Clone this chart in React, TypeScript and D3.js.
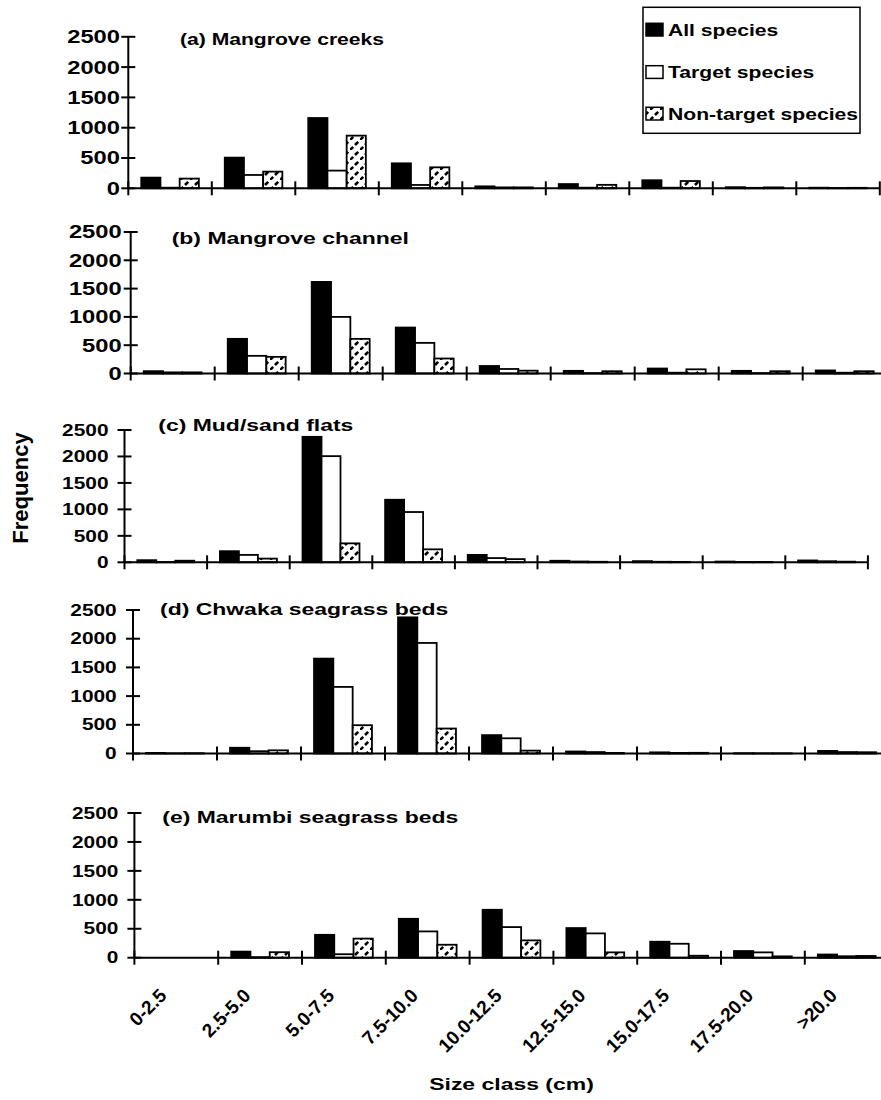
import React from 'react'
import * as d3 from 'd3'

// size classes (x categories) and series
const sizeClasses = ['0-2.5', '2.5-5.0', '5.0-7.5', '7.5-10.0', '10.0-12.5', '12.5-15.0', '15.0-17.5', '17.5-20.0', '>20.0']
const seriesNames = ['All species', 'Target species', 'Non-target species']
const yTicks = [0, 500, 1000, 1500, 2000, 2500]
const panelTitles = [
  '(a) Mangrove creeks',
  '(b) Mangrove channel',
  '(c) Mud/sand flats',
  '(d) Chwaka seagrass beds',
  '(e) Marumbi seagrass beds',
]

const creeksAll = [176, 506, 1160, 412, 32, 70, 133, 18, 10]
const creeksTarget = [10, 220, 292, 55, 15, 10, 10, 8, 5]
const creeksNonTarget = [160, 275, 869, 346, 15, 57, 120, 15, 8]

const channelAll = [41, 612, 1618, 812, 133, 47, 88, 47, 54]
const channelTarget = [20, 312, 1000, 541, 80, 7, 14, 7, 14]
const channelNonTarget = [20, 294, 612, 265, 50, 40, 74, 40, 40]

const flatsAll = [40, 210, 2371, 1182, 140, 29, 22, 14, 35]
const flatsTarget = [5, 140, 2006, 950, 80, 15, 10, 7, 20]
const flatsNonTarget = [30, 70, 358, 245, 60, 10, 8, 7, 12]

const chwakaAll = [10, 100, 1653, 2372, 320, 35, 20, 5, 45]
const chwakaTarget = [3, 40, 1160, 1926, 265, 25, 10, 3, 25]
const chwakaNonTarget = [5, 55, 493, 435, 50, 10, 12, 3, 22]

const marumbiAll = [0, 105, 395, 672, 828, 512, 276, 115, 55]
const marumbiTarget = [0, 10, 60, 454, 529, 420, 241, 92, 25]
const marumbiNonTarget = [0, 95, 330, 224, 299, 92, 34, 23, 30]

const panelData = [
  [creeksAll, creeksTarget, creeksNonTarget],
  [channelAll, channelTarget, channelNonTarget],
  [flatsAll, flatsTarget, flatsNonTarget],
  [chwakaAll, chwakaTarget, chwakaNonTarget],
  [marumbiAll, marumbiTarget, marumbiNonTarget],
]

// where each panel sits on the page
const frames = [
  { x0: 128.3, band: 83.5, top: 36.8, bottom: 188.3, tick: 18, gap: 8.3, tx: 180, ty: 45, tf: 16 },
  { x0: 130.7, band: 84, top: 232, bottom: 373.5, tick: 18, gap: 9, tx: 171.7, ty: 243.5, tf: 17.4 },
  { x0: 124.5, band: 82.6, top: 430, bottom: 562.3, tick: 15.8, gap: 16, tx: 158.3, ty: 430.5, tf: 17.4 },
  { x0: 133, band: 84, top: 610, bottom: 753.5, tick: 15.8, gap: 16.3, tx: 160, ty: 615, tf: 17.4 },
  { x0: 134.4, band: 83.8, top: 813, bottom: 957.7, tick: 15.8, gap: 16, tx: 162.3, ty: 822.5, tf: 17.4 },
]

const FONT = "'Liberation Sans', Arial, Helvetica, sans-serif"
const SX = 1.32 // the original figure is stretched horizontally

const fills = ['#000', '#fff', 'url(#hatch)']

function Txt(props: {
  x: number
  y: number
  size: number
  anchor?: string
  dy?: string
  children: React.ReactNode
}) {
  return (
    <text
      transform={`translate(${props.x},${props.y}) scale(${SX},1)`}
      fontSize={props.size}
      fontFamily={FONT}
      fontWeight="bold"
      textAnchor={props.anchor ?? 'start'}
      dy={props.dy}
      fill="#000"
    >
      {props.children}
    </text>
  )
}

function Panel({ idx }: { idx: number }) {
  const f = frames[idx]
  const values = panelData[idx]
  const x = d3
    .scaleBand<string>()
    .domain(sizeClasses)
    .range([f.x0, f.x0 + f.band * sizeClasses.length])
    .padding(0)
  const xs = d3
    .scaleBand<string>()
    .domain(seriesNames)
    .range([0, x.bandwidth()])
    .paddingInner(0)
    .paddingOuter(0.675)
  const y = d3.scaleLinear().domain([0, 2500]).range([f.bottom, f.top])
  const x1 = f.x0 + f.band * sizeClasses.length
  const edges = sizeClasses.map((c) => x(c) as number).concat([x1])

  return (
    <g>
      {seriesNames.map((s, si) =>
        sizeClasses.map((c, ci) => {
          const v = values[si][ci]
          if (v <= 0) return null
          const bx = (x(c) as number) + (xs(s) as number)
          return (
            <rect
              key={s + c}
              x={bx}
              y={y(v)}
              width={xs.bandwidth()}
              height={y(0) - y(v)}
              fill={fills[si]}
              stroke="#000"
              strokeWidth={1.8}
            />
          )
        }),
      )}
      {/* y axis */}
      <line x1={f.x0} x2={f.x0} y1={y(2500)} y2={y(0)} stroke="#000" strokeWidth={2} />
      {yTicks.map((t) => (
        <g key={t}>
          <line x1={f.x0 - 7} x2={f.x0 + 7} y1={y(t)} y2={y(t)} stroke="#000" strokeWidth={2} />
          <Txt x={f.x0 - f.gap} y={y(t)} size={f.tick} anchor="end" dy="0.36em">
            {t}
          </Txt>
        </g>
      ))}
      {/* x axis */}
      <line x1={f.x0} x2={x1} y1={y(0)} y2={y(0)} stroke="#000" strokeWidth={2} />
      {edges.map((e, i) => (
        <line key={i} x1={e} x2={e} y1={y(0) - 7} y2={y(0) + 7} stroke="#000" strokeWidth={2} />
      ))}
      <Txt x={f.tx} y={f.ty} size={f.tf}>
        {panelTitles[idx]}
      </Txt>
      {idx === frames.length - 1 &&
        sizeClasses.map((c) => {
          const cx = (x(c) as number) + x.bandwidth() / 2 - 8.5
          const cy = y(0) + 39
          return (
            <text
              key={c}
              transform={`translate(${cx},${cy}) rotate(-45)`}
              fontSize={19}
              fontFamily={FONT}
              fontWeight="bold"
              textAnchor="end"
            >
              {c}
            </text>
          )
        })}
    </g>
  )
}

function Legend() {
  const rowY = [23.3, 65.7, 107.3]
  return (
    <g>
      <rect x={643} y={7.3} width={217} height={126} fill="#fff" stroke="#000" strokeWidth={1.5} />
      {seriesNames.map((s, i) => (
        <g key={s}>
          <rect x={646} y={rowY[i]} width={17} height={12.7} fill={fills[i]} stroke="#000" strokeWidth={1.5} />
          <Txt x={668} y={rowY[i] + 12.5} size={16}>
            {s}
          </Txt>
        </g>
      ))}
    </g>
  )
}

export default function App() {
  return (
    <svg
      width={881}
      height={1100}
      style={{ position: 'absolute', left: 0, top: 0, background: '#fff' }}
    >
      <defs>
        <pattern id="hatch" patternUnits="userSpaceOnUse" width={10} height={10}>
          <rect width={10} height={10} fill="#fff" />
          <path d="M0,10 L3.2,6.8 M5,5 L8.2,1.8" stroke="#000" strokeWidth={2.6} />
        </pattern>
      </defs>
      <rect width={881} height={1100} fill="#fff" />
      {frames.map((_, i) => (
        <Panel key={i} idx={i} />
      ))}
      <Legend />
      <text
        transform="translate(28.3,488) rotate(-90)"
        fontSize={22}
        fontFamily={FONT}
        fontWeight="bold"
        textAnchor="middle"
      >
        Frequency
      </text>
      <Txt x={511.5} y={1090} size={17.4} anchor="middle">
        Size class (cm)
      </Txt>
    </svg>
  )
}
